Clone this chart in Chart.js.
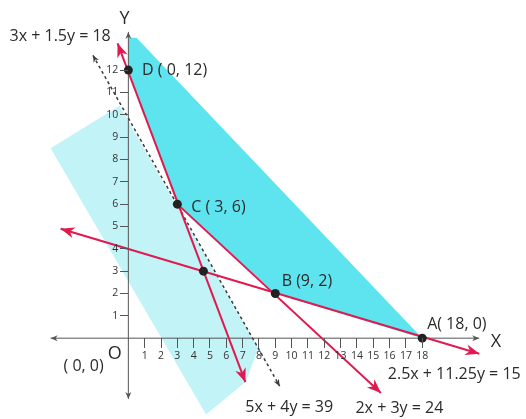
<!DOCTYPE html>
<html lang="en">
<head>
<meta charset="UTF-8">
<title>Feasible region</title>
<script src="https://cdn.jsdelivr.net/npm/chart.js"></script>
<style>
  html, body { margin: 0; padding: 0; background: #fff; }
  #wrap { width: 526px; height: 419px; }
</style>
</head>
<body>
<div id="wrap"><canvas id="lp"></canvas></div>
<script>
// corner points of the feasible region (D, C, B, A) and the extra crossing point
const cornerX = [0, 3, 9, 18, 4.6];
const cornerY = [12, 6, 2, 0, 3];

// constraint lines, tip to tip as drawn
const lineAX = [-0.66, 7.17];   // 3x + 1.5y = 18
const lineAY = [13.2, -1.97];
const lineBX = [3, 15.47];      // 2x + 3y = 24
const lineBY = [6, -2.45];
const lineCX = [-4.15, 21.5];   // 2.5x + 11.25y = 15
const lineCY = [4.9, -0.7];
const lineDX = [-2.17, 9.27];   // 5x + 4y = 39 (dashed)
const lineDY = [12.66, -2.15];

// shaded regions
const regionX = [0, 0, 3, 9, 18, 0.5];
const regionY = [13.45, 12, 6, 2, 0, 13.45];
const paleX = [-4.76, -0.54, 7.95, 7.22, 4.76];
const paleY = [8.5, 10.4, -0.44, -1.93, -3.42];

// axes extent
const xAxisX = [-4.76, 21.49];
const xAxisY = [0, 0];
const yAxisX = [0, 0];
const yAxisY = [-2.72, 13.71];

// tick labels
const xTicks = [1, 2, 3, 4, 5, 6, 7, 8, 9, 10, 11, 12, 13, 14, 15, 16, 17, 18];
const yTicks = [1, 2, 3, 4, 5, 6, 7, 8, 9, 10, 11, 12];

// text on the figure (data coords)
const notes = [
  { text: 'Y', x: -0.24, y: 14.28, size: 18, align: 'center' },
  { text: '3x + 1.5y = 18', x: -7.28, y: 13.49 },
  { text: 'D ( 0, 12)', x: 0.84, y: 12.0 },
  { text: 'C ( 3, 6)', x: 3.85, y: 5.87 },
  { text: 'B (9, 2)', x: 9.39, y: 2.54 },
  { text: 'A( 18, 0)', x: 18.3, y: 0.61 },
  { text: 'X', x: 22.52, y: -0.18, size: 18, align: 'center' },
  { text: 'O', x: -0.84, y: -0.72, size: 18, align: 'center' },
  { text: '( 0, 0)', x: -3.97, y: -1.25 },
  { text: '2.5x + 11.25y = 15', x: 15.89, y: -1.64 },
  { text: '5x + 4y = 39', x: 7.16, y: -3.12 },
  { text: '2x + 3y = 24', x: 13.91, y: -3.14 }
];

const pts = (xs, ys) => xs.map((x, i) => ({ x, y: ys[i] }));

const RED = '#e01a4f';
const AXIS = '#555';
const INK = '#2b2b2b';
const FONT = '"Open Sans", sans-serif';

function seg(xs, ys, color, width, extra) {
  return Object.assign({
    data: pts(xs, ys), showLine: true, borderColor: color, borderWidth: width,
    pointRadius: 0, fill: false, clip: false, order: 5
  }, extra);
}

// arrow heads at line ends, placed from the drawn points
const arrowPlugin = {
  id: 'arrows',
  afterDatasetsDraw(chart) {
    const ctx = chart.ctx;
    chart.data.datasets.forEach((ds, i) => {
      if (!ds.arrow) return;
      const p = chart.getDatasetMeta(i).data;
      const n = p.length;
      const heads = [];
      if (ds.arrow.start) heads.push([p[0], p[1]]);
      if (ds.arrow.end) heads.push([p[n - 1], p[n - 2]]);
      heads.forEach(([tip, from]) => {
        const a = Math.atan2(tip.y - from.y, tip.x - from.x);
        const L = ds.arrow.len, W = ds.arrow.half;
        ctx.save();
        ctx.translate(tip.x, tip.y);
        ctx.rotate(a);
        ctx.beginPath();
        ctx.moveTo(0, 0);
        ctx.lineTo(-L, -W);
        ctx.lineTo(-L * 0.7, 0);
        ctx.lineTo(-L, W);
        ctx.closePath();
        ctx.fillStyle = ds.arrow.color || ds.borderColor;
        ctx.fill();
        ctx.restore();
      });
    });
  }
};

// figure text + y tick labels (left of the y axis)
const notesPlugin = {
  id: 'notes',
  afterDraw(chart) {
    const ctx = chart.ctx;
    const sx = chart.scales.x, sy = chart.scales.y;
    ctx.save();
    ctx.textBaseline = 'middle';
    ctx.fillStyle = '#333';
    ctx.font = '10.5px ' + FONT;
    ctx.textAlign = 'right';
    const x0 = sx.getPixelForValue(0) - sy.options.grid.tickLength - 2;
    yTicks.forEach(v => ctx.fillText(String(v), x0, sy.getPixelForValue(v)));
    ctx.fillStyle = INK;
    notes.forEach(n => {
      ctx.font = (n.size || 16) + 'px ' + FONT;
      ctx.textAlign = n.align || 'left';
      ctx.fillText(n.text, sx.getPixelForValue(n.x), sy.getPixelForValue(n.y));
    });
    ctx.restore();
  }
};

new Chart(document.getElementById('lp'), {
  type: 'scatter',
  data: {
    datasets: [
      // corner dots
      { data: pts(cornerX, cornerY), pointRadius: 4.5, pointBackgroundColor: '#222',
        pointBorderWidth: 0, clip: false, order: 0 },
      seg(lineAX, lineAY, RED, 2, { arrow: { start: true, end: true, len: 14, half: 5.5 }, order: 2 }),
      seg(lineBX, lineBY, RED, 2, { arrow: { end: true, len: 14, half: 5.5 }, order: 2 }),
      seg(lineCX, lineCY, RED, 2, { arrow: { start: true, end: true, len: 14, half: 5.5 }, order: 2 }),
      seg(lineDX, lineDY, '#3a3a3a', 1.5, { borderDash: [3, 3], arrow: { start: true, end: true, len: 7, half: 3 }, order: 3 }),
      seg(xAxisX, xAxisY, AXIS, 1, { arrow: { start: true, end: true, len: 7, half: 3 }, order: 4 }),
      seg(yAxisX, yAxisY, AXIS, 1, { arrow: { start: true, end: true, len: 7, half: 3 }, order: 4 }),
      // shaded regions
      { data: pts(regionX, regionY), showLine: true, borderWidth: 0, pointRadius: 0,
        backgroundColor: '#5ee4ef', fill: 'shape', clip: false, order: 20 },
      { data: pts(paleX, paleY), showLine: true, borderWidth: 0, pointRadius: 0,
        backgroundColor: '#c2f3f7', fill: 'shape', clip: false, order: 21 }
    ]
  },
  options: {
    responsive: true,
    maintainAspectRatio: false,
    animation: false,
    layout: { padding: 0 },
    plugins: { legend: { display: false }, tooltip: { enabled: false } },
    scales: {
      x: {
        type: 'linear', min: -7.586, max: 24.08,
        position: { y: 0 },
        afterBuildTicks: s => { s.ticks = xTicks.map(v => ({ value: v })); },
        afterFit: s => { s.paddingLeft = 0; s.paddingRight = 0; },
        ticks: { z: 1, autoSkip: false, maxRotation: 0, padding: 2, color: '#333',
                 font: { family: FONT, size: 10.5 } },
        grid: { z: 1, drawOnChartArea: false, tickLength: 10, color: AXIS },
        border: { display: false }
      },
      y: {
        type: 'linear', min: -3.416, max: 14.936,
        position: { x: 0 },
        afterBuildTicks: s => { s.ticks = yTicks.map(v => ({ value: v })); },
        afterFit: s => { s.paddingTop = 0; s.paddingBottom = 0; },
        ticks: { display: false },
        grid: { z: 1, drawOnChartArea: false, tickLength: 8, color: AXIS },
        border: { display: false }
      }
    }
  },
  plugins: [arrowPlugin, notesPlugin]
});
</script>
</body>
</html>
